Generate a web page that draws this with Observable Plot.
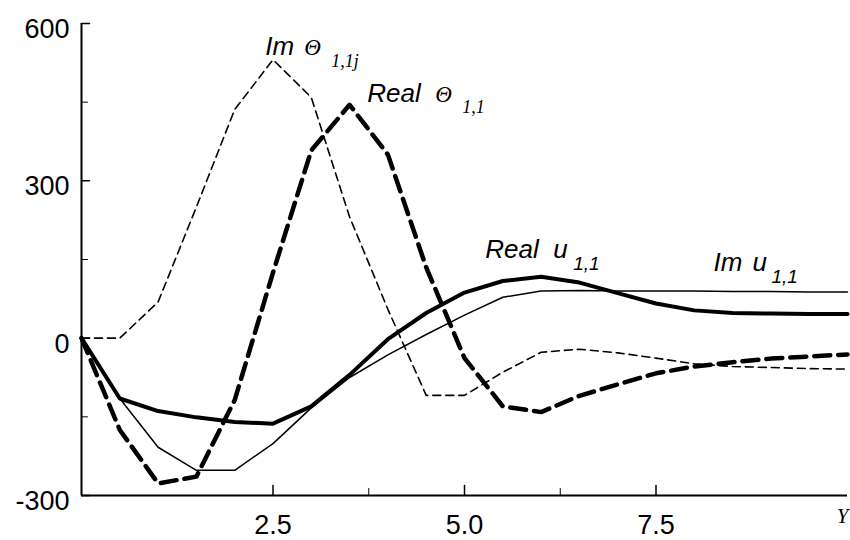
<!DOCTYPE html>
<html><head><meta charset="utf-8">
<script src="https://cdn.jsdelivr.net/npm/d3@7"></script>
<script src="https://cdn.jsdelivr.net/npm/@observablehq/plot@0.6"></script>
<style>
html,body{margin:0;padding:0;background:#fff}
#chart svg{display:block}
</style>
</head><body><div id="chart"></div>
<script>
// Y coordinate samples
const xs = [0, 0.5, 1, 1.5, 2, 2.5, 3, 3.5, 4, 4.5, 5, 5.5, 6, 6.5, 7, 7.5, 8, 8.5, 9, 9.5, 10];
// Series values
const imTheta   = [0, 0, 69, 250, 436, 531, 459, 231, 55, -109, -109, -65, -27, -21, -28, -38, -49, -54, -56, -58, -59];
const realTheta = [0, -175, -277, -264, -118, 125, 358, 445, 350, 135, -38, -130, -141, -110, -88, -67, -54, -46, -39, -35, -31];
const realU     = [0, -115, -139, -151, -160, -163, -130, -70, -2, 48, 87, 109, 117, 106, 86, 66, 53, 48, 47, 46, 46];
const imU       = [0, -115, -208, -252, -252, -201, -133, -75, -32, 7, 44, 78, 90, 91, 90, 90, 90, 89, 89, 88, 88];
// Axis ticks
const xMajor = [2.5, 5, 7.5];
const xMinor = [3.75, 6.25];
const yMajor = [-300, 0, 300, 600];
const yMinor = [-150, 150, 450];
const xTickLabels = ["2.5", "5.0", "7.5"];
const yTickLabels = ["-300", "0", "300", "600"];
const axisName = "Y";

const sans = "'Liberation Sans', Arial, sans-serif";
const serif = "'Liberation Serif', 'Times New Roman', serif";

const toRows = vals => xs.map((x, i) => ({x, v: vals[i]}));

// custom straight-line tick shape for vectors
const lineShape = {draw(ctx, l) { ctx.moveTo(0, 0); ctx.lineTo(0, -l); }};

// Series labels: anchor in data coords, parts offset in px
const labels = [
  {x: 2.40, y: 539, parts: [
    {t: "Im", dx: 0, dy: 0, f: sans, s: 26},
    {t: "Θ", dx: 39, dy: 0, f: serif, s: 23},
    {t: "1,1j", dx: 66, dy: 12, f: serif, s: 18}]},
  {x: 3.73, y: 451, parts: [
    {t: "Real", dx: 0, dy: 0, f: sans, s: 26},
    {t: "Θ", dx: 68, dy: 0, f: serif, s: 23},
    {t: "1,1", dx: 95, dy: 11, f: serif, s: 18}]},
  {x: 5.27, y: 152, parts: [
    {t: "Real", dx: 0, dy: 0, f: sans, s: 26},
    {t: "u", dx: 68, dy: 0, f: sans, s: 26},
    {t: "1,1", dx: 88, dy: 12, f: sans, s: 19}]},
  {x: 8.25, y: 129, parts: [
    {t: "Im", dx: 0, dy: 0, f: sans, s: 26},
    {t: "u", dx: 39, dy: 0, f: sans, s: 26},
    {t: "1,1", dx: 58, dy: 12, f: sans, s: 19}]}
];

const labelMarks = labels.flatMap(L => L.parts.map(p =>
  Plot.text([L], {x: "x", y: "y", text: () => p.t, dx: p.dx, dy: p.dy,
    textAnchor: "start", lineAnchor: "bottom", fontFamily: p.f, fontSize: p.s,
    fontStyle: "italic", fill: "black"})));

const chart = Plot.plot({
  width: 850, height: 540,
  marginLeft: 81, marginRight: 3, marginTop: 23, marginBottom: 45,
  style: {background: "#fff", color: "#000", fontFamily: sans},
  x: {domain: [0, 10], axis: null},
  y: {domain: [-300, 600], axis: null},
  marks: [
    // axis lines
    Plot.ruleX([0], {y1: -300, y2: 600, strokeWidth: 2, stroke: "black"}),
    Plot.ruleY([-300], {x1: 0, x2: 10, strokeWidth: 2, stroke: "black"}),
    // ticks (pointing inward)
    Plot.vector(xMajor, {x: d => d, y: -300, length: 10, rotate: 0, anchor: "start", shape: lineShape, stroke: "black", strokeWidth: 1.5}),
    Plot.vector(xMinor, {x: d => d, y: -300, length: 7, rotate: 0, anchor: "start", shape: lineShape, stroke: "black", strokeWidth: 1}),
    Plot.vector(yMajor, {x: 0, y: d => d, length: 8, rotate: 90, anchor: "start", shape: lineShape, stroke: "black", strokeWidth: 1.5}),
    Plot.vector(yMinor, {x: 0, y: d => d, length: 6, rotate: 90, anchor: "start", shape: lineShape, stroke: "black", strokeWidth: 1}),
    // tick labels
    Plot.text(xMajor, {x: d => d, y: -300, text: (d, i) => xTickLabels[i], dy: 30, lineAnchor: "middle", fontSize: 27, fontFamily: sans, fill: "black"}),
    Plot.text(yMajor, {x: 0, y: d => d, text: (d, i) => yTickLabels[i], dx: -12, dy: 6, textAnchor: "end", lineAnchor: "middle", fontSize: 27, fontFamily: sans, fill: "black"}),
    Plot.text([axisName], {x: 10, y: -300, text: d => d, dy: 27, dx: 1, textAnchor: "end", lineAnchor: "bottom", fontSize: 21, fontFamily: serif, fontStyle: "italic", fill: "black"}),
    // series
    Plot.line(toRows(imU), {x: "x", y: "v", stroke: "black", strokeWidth: 1.5}),
    Plot.line(toRows(realU), {x: "x", y: "v", stroke: "black", strokeWidth: 4}),
    Plot.line(toRows(imTheta), {x: "x", y: "v", stroke: "black", strokeWidth: 1.6, strokeDasharray: "8,5"}),
    Plot.line(toRows(realTheta), {x: "x", y: "v", stroke: "black", strokeWidth: 4.5, strokeDasharray: "16,8"}),
    ...labelMarks
  ]
});
document.getElementById("chart").appendChild(chart);
</script>
</body></html>
